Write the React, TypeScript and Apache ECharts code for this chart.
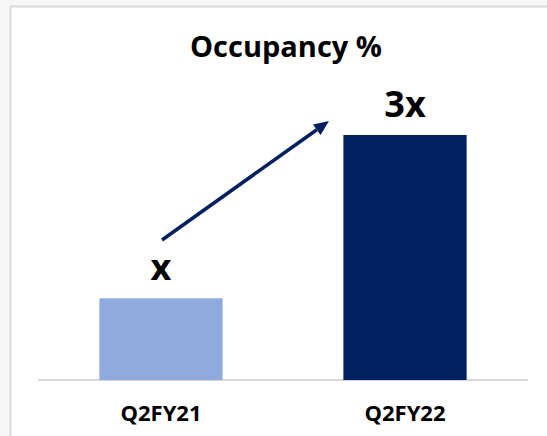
import React, { useEffect, useRef } from "react";
import * as echarts from "echarts";

const categories = ["Q2FY21", "Q2FY22"];
const values = [1, 3];
const valueLabels = ["x", "3x"];
const barColors = ["#8FAADC", "#002060"];
const titleText = "Occupancy %";

export default function App() {
  const ref = useRef<HTMLDivElement>(null);
  useEffect(() => {
    if (!ref.current) return;
    const chart = echarts.init(ref.current, null, { renderer: "svg" });
    const font = "'Open Sans', sans-serif";
    // arrow geometry
    const tip = [329, 121];
    const start = [162, 240];
    const dx = tip[0] - start[0];
    const dy = tip[1] - start[1];
    const len = Math.sqrt(dx * dx + dy * dy);
    const ux = dx / len;
    const uy = dy / len;
    const headLen = 15;
    const headHalf = 6.5;
    const bx = tip[0] - headLen * ux;
    const by = tip[1] - headLen * uy;
    const nx = -uy;
    const ny = ux;
    chart.setOption({
      animation: false,
      backgroundColor: "#ffffff",
      title: {
        text: titleText,
        left: 281,
        top: 26,
        textAlign: "center",
        textStyle: { fontFamily: font, fontWeight: "bold", fontSize: 29, color: "#000" },
      },
      grid: { left: 39, right: 20, top: 135, bottom: 56 },
      xAxis: {
        type: "category",
        data: categories,
        axisLine: { show: true, lineStyle: { color: "#d9d9d9", width: 2 } },
        axisTick: { show: false },
        axisLabel: {
          margin: 21,
          fontFamily: font,
          fontWeight: "bold",
          fontSize: 22,
          color: "#000",
        },
      },
      yAxis: { type: "value", min: 0, max: 3, show: false, splitLine: { show: false } },
      series: [
        {
          type: "bar",
          barWidth: "50.5%",
          data: values.map((v, i) => ({ value: v, itemStyle: { color: barColors[i] } })),
          label: {
            show: true,
            position: "top",
            distance: 14,
            formatter: (p: any) => valueLabels[p.dataIndex],
            fontFamily: font,
            fontWeight: "bold",
            fontSize: 36,
            color: "#000",
          },
        },
      ],
      graphic: [
        { type: "rect", shape: { x: 0, y: 0, width: 547, height: 6 }, style: { fill: "#f6f6f6" }, silent: true },
        { type: "rect", shape: { x: 0, y: 0, width: 10, height: 436 }, style: { fill: "#f6f6f6" }, silent: true },
        { type: "line", shape: { x1: 10, y1: 6.5, x2: 547, y2: 6.5 }, style: { stroke: "#d9d9d9", lineWidth: 2 }, silent: true },
        { type: "line", shape: { x1: 10.5, y1: 6, x2: 10.5, y2: 436 }, style: { stroke: "#d9d9d9", lineWidth: 2 }, silent: true },
        {
          type: "line",
          shape: { x1: start[0], y1: start[1], x2: bx, y2: by },
          style: { stroke: "#002060", lineWidth: 3.5 },
          silent: true,
        },
        {
          type: "polygon",
          shape: {
            points: [
              [tip[0], tip[1]],
              [bx + headHalf * nx, by + headHalf * ny],
              [bx - headHalf * nx, by - headHalf * ny],
            ],
          },
          style: { fill: "#002060" },
          silent: true,
        },
      ],
    });
    return () => chart.dispose();
  }, []);
  return (
    <div
      ref={ref}
      style={{ position: "fixed", left: 0, top: 0, width: 547, height: 436 }}
    />
  );
}
